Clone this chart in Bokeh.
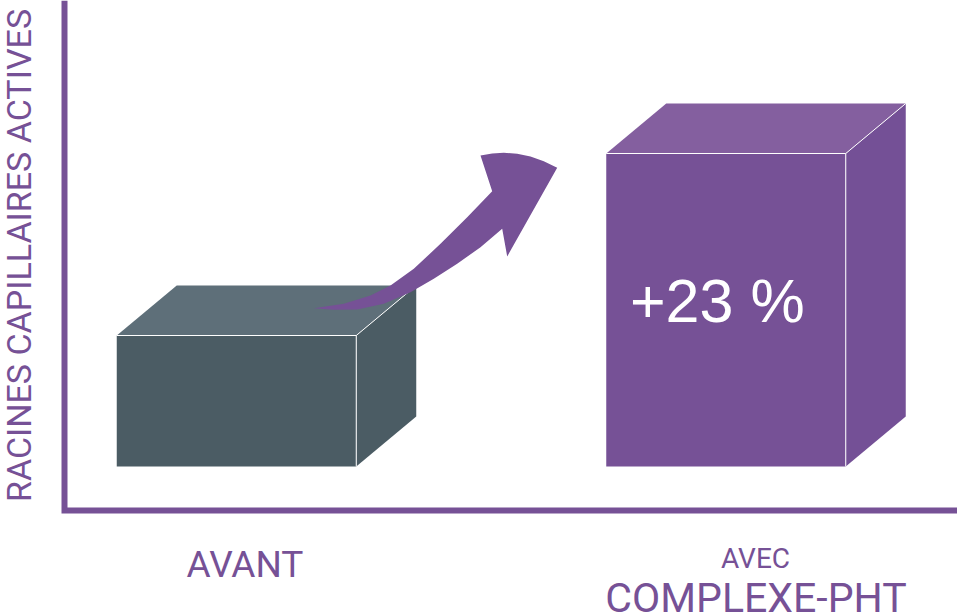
import math
from bokeh.plotting import figure
from bokeh.models import Range1d
from bokeh.core.properties import value
from bokeh.embed import file_html
from bokeh.resources import INLINE

categories = ["AVANT", "AVEC COMPLEXE-PHT"]
box_heights = [131, 313]
gain_label = "+23 %"
y_title = "RACINES CAPILLAIRES ACTIVES"

# layout constants
centers = [236, 725.5]
half_w = 119.75
dx, dy = 60, 50
BASE_PX = 466
front_cols = ["#4B5C64", "#765196"]
top_cols = ["#5E6F79", "#845F9F"]
side_cols = ["#4B5C64", "#745096"]
PURPLE = "#765196"
FONT = "Roboto"

arrow_px_x = [313.3, 343.3, 370, 390, 413.3, 440, 466.7, 491.7, 480, 491.7, 503.3, 516.7, 530, 543.3, 556.7,
              506.7, 501.7, 480, 456.7, 433.3, 410, 383.3, 356.7, 333.3]
arrow_px_y = [307.7, 303.3, 295, 285, 268.3, 243.3, 216.7, 190.7, 155, 153, 152.3, 153.3, 156, 160.7, 167.3,
              256, 228.3, 246.7, 263.3, 278.3, 291.7, 303.3, 309, 309.3]

p = figure(width=957, height=614, output_backend="svg", toolbar_location=None,
           x_range=Range1d(0, 957), y_range=Range1d(BASE_PX - 614, BASE_PX),
           min_border=0, margin=(0, 0, 0, 0), outline_line_color=None,
           x_axis_location=None, y_axis_location=None)
p.grid.visible = False

def yy(px):
    return BASE_PX - px

# axis lines
p.line([64, 64, 957], [yy(0), yy(510), yy(510)], line_color=PURPLE, line_width=6,
       line_join="miter")

for c, h, fc, tc, sc in zip(centers, box_heights, front_cols, top_cols, side_cols):
    l, r = c - half_w, c + half_w
    p.patch([l, r, r + dx, l + dx], [h, h, h + dy, h + dy], fill_color=tc, line_color=None)
    p.patch([r, r + dx, r + dx, r], [0, dy, h + dy, h], fill_color=sc, line_color=None)
    p.patch([l, r, r, l], [0, 0, h, h], fill_color=fc, line_color=None)
    p.multi_line([[l, r], [r, r], [r, r + dx]], [[h, h], [h, 0], [h, h + dy]],
                 line_color="white", line_width=1)

p.patch(arrow_px_x, [yy(v) for v in arrow_px_y], fill_color=PURPLE, line_color=None)

def lab(txt, x, ypx, size, color=PURPLE, font=FONT, align="center", angle=0.0):
    p.text([x], [yy(ypx)], text=[txt], text_color=color, text_font=value(font),
           text_font_size=size, text_align=align, text_baseline="alphabetic", angle=angle)

lab(gain_label, 629.5, 300, "61px", color="white", font="Liberation Sans", align="left")
lab(y_title, 18, 255, "34px", angle=math.pi / 2)
lab(categories[0], 244.5, 564, "37px")
first, second = categories[1].split(" ")
lab(first, 755, 558, "28px")
lab(second, 755.5, 597, "41px")

open("out.html", "w").write(file_html(p, INLINE))
